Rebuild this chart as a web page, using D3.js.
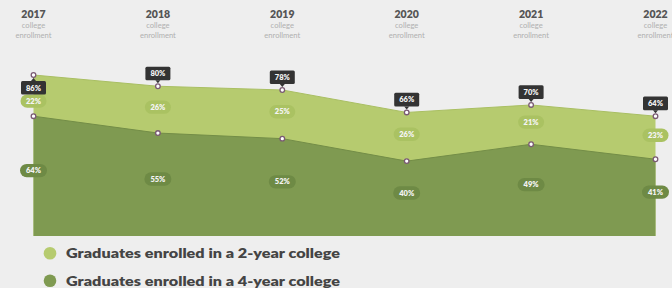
<!DOCTYPE html>
<html><head><meta charset="utf-8">
<script src="https://cdn.jsdelivr.net/npm/d3@7"></script>
<style>
html,body{margin:0;padding:0;background:#eeeeee;}
svg{display:block;font-family:Lato,"Open Sans",sans-serif;}
</style></head>
<body><svg id="c" width="672" height="288"></svg>
<script>
const years = ["2017","2018","2019","2020","2021","2022"];
const totals = [86, 80, 78, 66, 70, 64];
const twoYear = [22, 26, 25, 26, 21, 23];
const fourYear = [64, 55, 52, 40, 49, 41];
const subLabels = ["college", "enrollment"];
const legendLabels = ["Graduates enrolled in a 2-year college", "Graduates enrolled in a 4-year college"];

const svg = d3.select("#c");
const x = d3.scalePoint().domain(years).range([33.5, 655.5]);
const y = d3.scaleLinear().domain([0, 100]).range([236, 48.8]);

const light = "#b6cb6f", dark = "#7f9a51";
const data = years.map((yr, i) => ({yr, total: totals[i], two: twoYear[i], four: fourYear[i], i}));

// areas
const areaTop = d3.area().x(d => x(d.yr)).y0(y(0)).y1(d => y(d.total));
const areaBot = d3.area().x(d => x(d.yr)).y0(y(0)).y1(d => y(d.four));
svg.append("path").datum(data).attr("d", areaTop).attr("fill", light);
svg.append("path").datum(data).attr("d", d3.line().x(d => x(d.yr)).y(d => y(d.total))).attr("fill","none").attr("stroke","#a9bf62").attr("stroke-width",1);
svg.append("path").datum(data).attr("d", areaBot).attr("fill", dark);
svg.append("path").datum(data).attr("d", d3.line().x(d => x(d.yr)).y(d => y(d.four))).attr("fill","none").attr("stroke","#738d47").attr("stroke-width",1);

// year headers
const hdr = svg.append("g");
data.forEach(d => {
  hdr.append("text").attr("x", x(d.yr)).attr("y", 17.5).attr("text-anchor","middle")
    .attr("font-size", 10.5).attr("font-weight", 800).attr("fill", "#555").text(d.yr);
  subLabels.forEach((s, k) => {
    hdr.append("text").attr("x", x(d.yr)).attr("y", 28 + k * 9.5).attr("text-anchor","middle")
      .attr("font-size", 7.6).attr("fill", "#b0b0b0").text(s);
  });
});

// pills
function pill(cx, cy, txt, fill, w) {
  const g = svg.append("g");
  g.append("rect").attr("x", cx - w/2).attr("y", cy - 6.7).attr("width", w).attr("height", 13.4)
    .attr("rx", 6.7).attr("fill", fill);
  g.append("text").attr("x", cx).attr("y", cy + 2.6).attr("text-anchor","middle")
    .attr("font-size", 7.5).attr("font-weight", 800).attr("fill", "#f4f4f4").text(txt);
}
data.forEach(d => {
  const mid2 = (y(d.total) + y(d.four)) / 2 + (d.i === 0 ? 5.5 : -2.5);
  pill(x(d.yr), mid2, d.two + "%", "#aac262", 26);
  const mid4 = (y(d.four) + y(0)) / 2 - 5.5;
  pill(x(d.yr), mid4, d.four + "%", "#6e8a45", 27);
});

// markers
data.forEach(d => {
  [d.total, d.four].forEach(v => {
    svg.append("circle").attr("cx", x(d.yr)).attr("cy", y(v)).attr("r", 2.3)
      .attr("fill", "#fff").attr("stroke", "#7a5a73").attr("stroke-width", 1.3);
  });
});

// total boxes
data.forEach(d => {
  const cx = x(d.yr), py = y(d.total);
  const below = d.i === 0;
  const bw = 25, bh = 13.6;
  const by = below ? py + 6 : py - 6 - bh;
  const g = svg.append("g");
  g.append("rect").attr("x", cx - bw/2).attr("y", by).attr("width", bw).attr("height", bh).attr("rx", 1.5).attr("fill", "#333");
  if (below) g.append("path").attr("d", `M${cx-2.5},${by} L${cx},${by-3} L${cx+2.5},${by} Z`).attr("fill", "#333");
  else g.append("path").attr("d", `M${cx-2.5},${by+bh} L${cx},${by+bh+3} L${cx+2.5},${by+bh} Z`).attr("fill", "#333");
  g.append("text").attr("x", cx).attr("y", by + bh/2 + 2.7).attr("text-anchor","middle")
    .attr("font-size", 7.5).attr("font-weight", 800).attr("fill", "#f2f2f2").text(d.total + "%");
});

// legend
const legColors = [light, dark];
legendLabels.forEach((t, k) => {
  const ly = 253.3 + k * 27.4;
  svg.append("circle").attr("cx", 50).attr("cy", ly).attr("r", 6.3).attr("fill", legColors[k]);
  svg.append("text").attr("x", 66).attr("y", ly + 4.8).attr("font-size", 13.5).attr("font-weight", 800)
    .attr("fill", "#444").attr("textLength", 274).attr("lengthAdjust","spacingAndGlyphs").text(t);
});
</script></body></html>
